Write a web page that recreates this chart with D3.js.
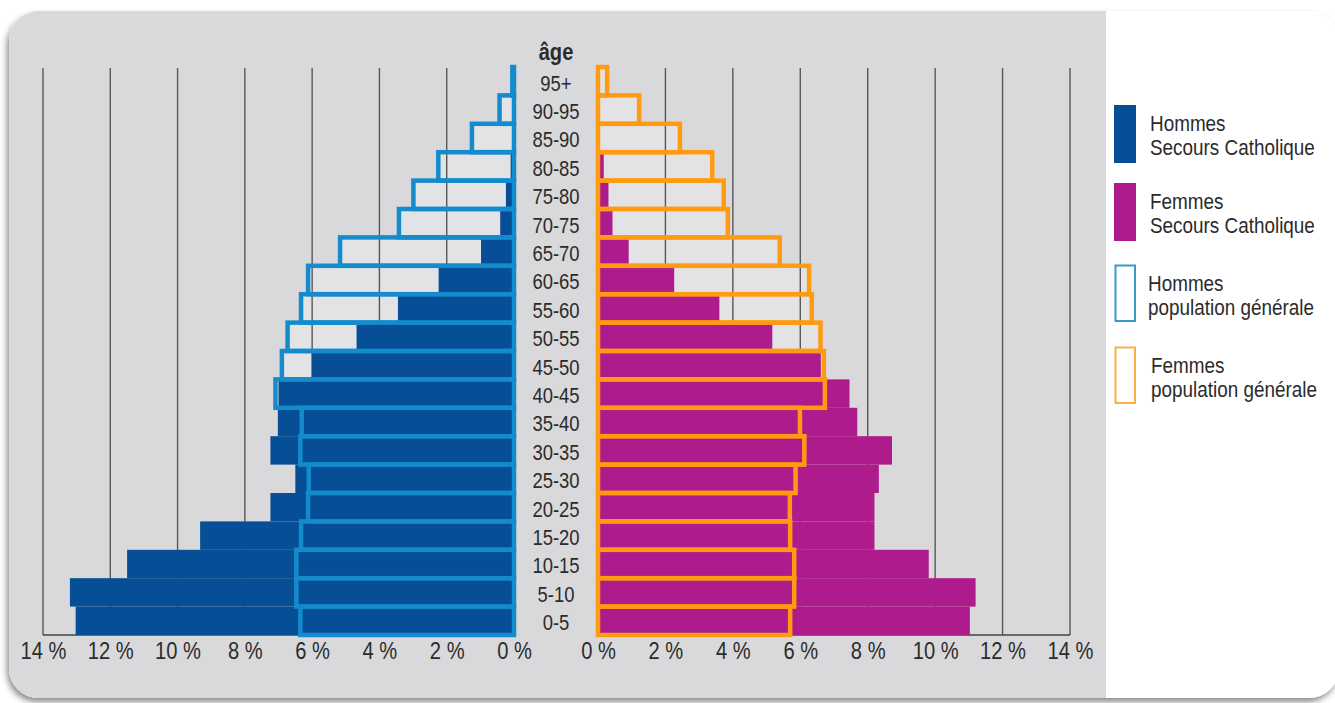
<!DOCTYPE html>
<html>
<head>
<meta charset="utf-8">
<script src="https://cdn.jsdelivr.net/npm/d3@7"></script>
<style>
  html, body { margin: 0; padding: 0; background: #ffffff; }
  svg { display: block; }
  text { font-family: "Liberation Sans", Arial, sans-serif; fill: #2b2b2b; }
</style>
</head>
<body>
<svg id="chart" width="1335" height="703"></svg>
<script>
// ---- Data (percent of population) ----
const ages = ["0-5","5-10","10-15","15-20","20-25","25-30","30-35","35-40","40-45","45-50",
              "50-55","55-60","60-65","65-70","70-75","75-80","80-85","85-90","90-95","95+"];
const hommesSecours = [13.03, 13.2, 11.5, 9.33, 7.24, 6.5, 7.24, 7.02, 7.0, 6.01,
                       4.68, 3.45, 2.24, 0.98, 0.41, 0.24, 0.1, 0, 0, 0];
const femmesSecours = [11.03, 11.2, 9.81, 8.2, 8.2, 8.33, 8.72, 7.69, 7.46, 6.61,
                       5.17, 3.6, 2.26, 0.91, 0.43, 0.31, 0.17, 0, 0, 0];
const hommesPopulation = [6.35, 6.47, 6.47, 6.33, 6.12, 6.1, 6.35, 6.31, 7.09, 6.9,
                          6.73, 6.33, 6.12, 5.17, 3.42, 2.99, 2.25, 1.25, 0.43, 0.05];
const femmesPopulation = [5.7, 5.82, 5.82, 5.7, 5.69, 5.86, 6.12, 5.99, 6.73, 6.7,
                          6.6, 6.34, 6.26, 5.39, 3.85, 3.73, 3.39, 2.43, 1.22, 0.27];
const tickValues = [0, 2, 4, 6, 8, 10, 12, 14];
const gridValues = [2, 4, 6, 8, 10, 12, 14];
const ageTitle = "âge";
const legendLabels = [
  ["Hommes", "Secours Catholique"],
  ["Femmes", "Secours Catholique"],
  ["Hommes", "population générale"],
  ["Femmes", "population générale"]
];

// ---- Styles ----
const C = {
  darkBlue: "#064f96",
  lightBlue: "#138bcc",
  magenta: "#ae1b8c",
  orange: "#ff9b12",
  panel: "#d9d9db",
  grid: "#585858"
};
const SX = 0.84; // horizontal condensing of text (condensed typeface look)

const svg = d3.select("#chart");
const defs = svg.append("defs");

const f = defs.append("filter").attr("id", "shadow")
  .attr("x", "-5%").attr("y", "-5%").attr("width", "110%").attr("height", "115%");
f.append("feDropShadow").attr("dx", -2).attr("dy", 4).attr("stdDeviation", 3)
  .attr("flood-color", "#000").attr("flood-opacity", 0.45);

const cardX = 9, cardY = 11, cardW = 1330, cardH = 687, cardR = 30, legendX = 1106;
defs.append("clipPath").attr("id", "cardClip")
  .append("rect").attr("x", cardX).attr("y", cardY).attr("width", cardW).attr("height", cardH)
  .attr("rx", cardR).attr("ry", cardR);

svg.append("rect").attr("x", cardX).attr("y", cardY).attr("width", cardW).attr("height", cardH)
  .attr("rx", cardR).attr("ry", cardR).attr("fill", "#ffffff").attr("filter", "url(#shadow)");
svg.append("rect").attr("clip-path", "url(#cardClip)")
  .attr("x", cardX).attr("y", cardY).attr("width", legendX - cardX).attr("height", cardH)
  .attr("fill", C.panel);

// ---- Scales ----
const xL = d3.scaleLinear().domain([0, 14]).range([514, 43]);
const xR = d3.scaleLinear().domain([0, 14]).range([598, 1070]);
const y = d3.scaleBand().domain(ages.slice().reverse()).range([67, 635]).padding(0);
const bw = y.bandwidth();
const rows = ages.map((a, i) => ({
  age: a, hs: hommesSecours[i], fs: femmesSecours[i], hp: hommesPopulation[i], fp: femmesPopulation[i]
}));

// outline interiors (slightly lighter)
const g = svg.append("g");
g.selectAll(".hpIn").data(rows).join("rect")
  .attr("x", d => xL(d.hp)).attr("y", d => y(d.age))
  .attr("width", d => xL(0) - xL(d.hp)).attr("height", bw)
  .attr("fill", "#ffffff").attr("fill-opacity", 0.28);
g.selectAll(".fpIn").data(rows).join("rect")
  .attr("x", xR(0)).attr("y", d => y(d.age))
  .attr("width", d => xR(d.fp) - xR(0)).attr("height", bw)
  .attr("fill", "#ffffff").attr("fill-opacity", 0.28);

// gridlines
const [y0, y1] = y.range();
g.selectAll(".gl").data(gridValues).join("line")
  .attr("x1", d => xL(d)).attr("x2", d => xL(d)).attr("y1", y0 + 1).attr("y2", y1)
  .attr("stroke", C.grid).attr("stroke-width", 1.4);
g.selectAll(".gr").data(gridValues).join("line")
  .attr("x1", d => xR(d)).attr("x2", d => xR(d)).attr("y1", y0 + 1).attr("y2", y1)
  .attr("stroke", C.grid).attr("stroke-width", 1.4);
g.append("line").attr("x1", xL(14)).attr("x2", xL(0)).attr("y1", y1).attr("y2", y1)
  .attr("stroke", "#444").attr("stroke-width", 1.5);
g.append("line").attr("x1", xR(0)).attr("x2", xR(14)).attr("y1", y1).attr("y2", y1)
  .attr("stroke", "#444").attr("stroke-width", 1.5);

// Secours Catholique filled bars
g.selectAll(".hs").data(rows.filter(d => d.hs > 0)).join("rect")
  .attr("x", d => xL(d.hs)).attr("y", d => y(d.age))
  .attr("width", d => xL(0) - xL(d.hs)).attr("height", bw)
  .attr("fill", C.darkBlue);
g.selectAll(".fs").data(rows.filter(d => d.fs > 0)).join("rect")
  .attr("x", xR(0)).attr("y", d => y(d.age))
  .attr("width", d => xR(d.fs) - xR(0)).attr("height", bw)
  .attr("fill", C.magenta);

// population générale outlines
g.selectAll(".hp").data(rows).join("rect")
  .attr("x", d => xL(d.hp)).attr("y", d => y(d.age))
  .attr("width", d => xL(0) - xL(d.hp)).attr("height", bw)
  .attr("fill", "none").attr("stroke", C.lightBlue).attr("stroke-width", 4.5);
g.selectAll(".fp").data(rows).join("rect")
  .attr("x", xR(0)).attr("y", d => y(d.age))
  .attr("width", d => xR(d.fp) - xR(0)).attr("height", bw)
  .attr("fill", "none").attr("stroke", C.orange).attr("stroke-width", 4.5);

// age labels
const ageX = 556;
svg.append("g").selectAll("text").data(ages).join("text")
  .attr("transform", d => `translate(${ageX},${y(d) + bw / 2 + 9.3}) scale(${SX},1)`)
  .attr("text-anchor", "middle").attr("font-size", 22).text(d => d);
svg.append("text").attr("transform", `translate(${ageX},60) scale(${SX},1)`)
  .attr("text-anchor", "middle")
  .attr("font-size", 24).attr("font-weight", "bold").text(ageTitle);

// axes
const fmt = d => d + " %";
const axL = svg.append("g").attr("transform", `translate(0,${y1})`)
  .call(d3.axisBottom(xL).tickValues(tickValues).tickSize(0).tickPadding(0).tickFormat(fmt));
const axR = svg.append("g").attr("transform", `translate(0,${y1})`)
  .call(d3.axisBottom(xR).tickValues(tickValues).tickSize(0).tickPadding(0).tickFormat(fmt));
[axL, axR].forEach(ax => {
  ax.attr("font-family", null).attr("font-size", null);
  ax.select(".domain").remove();
  ax.selectAll("text").attr("y", 0).attr("dy", 0)
    .attr("transform", `translate(0,24) scale(${SX},1)`)
    .attr("font-size", 24).style("fill", "#2b2b2b");
});

// legend
const legendSwatches = [
  { fill: C.darkBlue, stroke: "none", y: 105, tx: 1150 },
  { fill: C.magenta, stroke: "none", y: 183, tx: 1150 },
  { fill: "#ffffff", stroke: "#3a97d2", y: 265, tx: 1148 },
  { fill: "#ffffff", stroke: "#fbad4a", y: 347, tx: 1151 }
];
const lg = svg.append("g");
legendSwatches.forEach((s, i) => {
  if (s.stroke === "none") {
    lg.append("rect").attr("x", 1114).attr("y", s.y).attr("width", 22).attr("height", 58).attr("fill", s.fill);
  } else {
    lg.append("rect").attr("x", 1115.5).attr("y", s.y + 0.5).attr("width", 19.5).attr("height", 55.5)
      .attr("fill", s.fill).attr("stroke", s.stroke).attr("stroke-width", 2);
  }
  const t = lg.append("text")
    .attr("transform", `translate(${s.tx},${s.y + 25.5}) scale(${SX},1)`)
    .attr("font-size", 22.5);
  t.append("tspan").attr("x", 0).attr("y", 0).text(legendLabels[i][0]);
  t.append("tspan").attr("x", 0).attr("y", 25).text(legendLabels[i][1]);
});
</script>
</body>
</html>
